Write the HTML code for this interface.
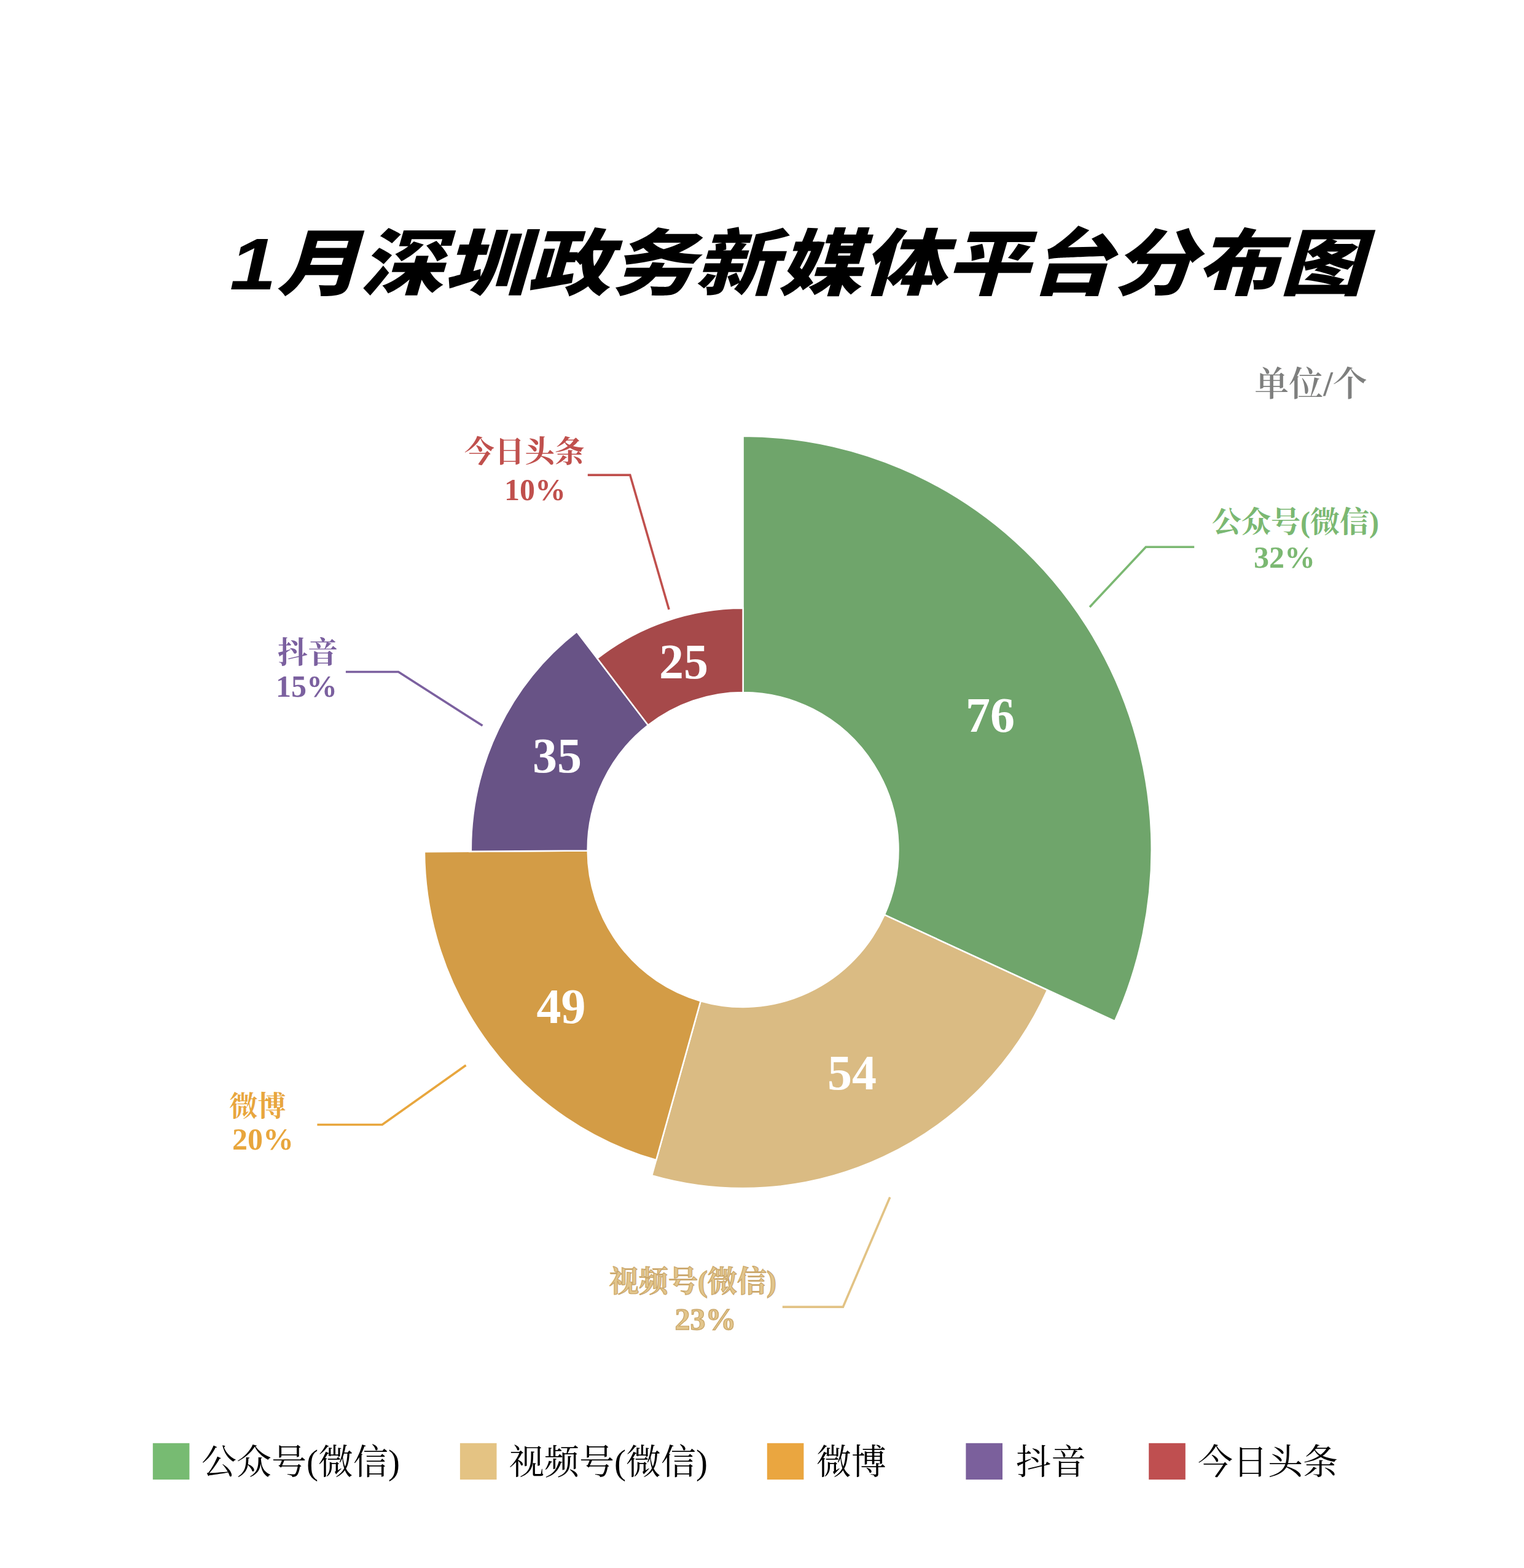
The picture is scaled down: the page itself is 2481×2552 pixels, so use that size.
<!DOCTYPE html>
<html><head><meta charset="utf-8"><title>chart</title>
<style>html,body{margin:0;padding:0;background:#fff;font-family:"Liberation Sans",sans-serif}svg{display:block}</style></head>
<body><svg width="2481" height="2552" viewBox="0 0 2481 2552">
<g transform="translate(1209.6 1382.9) scale(0.988 1)"><path d="M0.00 -256.00L0.00 -673.20A673.20 673.20 0 0 1 612.70 278.93L232.99 106.07A256.00 256.00 0 0 0 0.00 -256.00Z" fill="#6FA56B" stroke="#fff" stroke-width="2.5" stroke-linejoin="miter"/><path d="M232.99 106.07L501.60 228.35A551.13 551.13 0 0 1 -150.21 530.27L-69.77 246.31A256.00 256.00 0 0 0 232.99 106.07Z" fill="#DABB83" stroke="#fff" stroke-width="2.5" stroke-linejoin="miter"/><path d="M-69.77 246.31L-143.08 505.11A524.98 524.98 0 0 1 -524.97 3.45L-255.99 1.68A256.00 256.00 0 0 0 -69.77 246.31Z" fill="#D39C46" stroke="#fff" stroke-width="2.5" stroke-linejoin="miter"/><path d="M-255.99 1.68L-448.12 2.95A448.13 448.13 0 0 1 -273.78 -354.78L-156.40 -202.67A256.00 256.00 0 0 0 -255.99 1.68Z" fill="#685386" stroke="#fff" stroke-width="2.5" stroke-linejoin="miter"/><path d="M-156.40 -202.67L-240.24 -311.32A393.24 393.24 0 0 1 -0.00 -393.24L-0.00 -256.00A256.00 256.00 0 0 0 -156.40 -202.67Z" fill="#A6494A" stroke="#fff" stroke-width="2.5" stroke-linejoin="miter"/></g>
<polyline points="1774.0,988.0 1865.4,890.3 1944.2,890.3" fill="none" stroke="#7BB872" stroke-width="3.6" stroke-linejoin="miter"/>
<polyline points="956.8,773.1 1025.7,773.1 1089.1,992.0" fill="none" stroke="#C0504D" stroke-width="3.6" stroke-linejoin="miter"/>
<polyline points="562.9,1093.5 648.6,1093.5 785.5,1181.1" fill="none" stroke="#7B609F" stroke-width="3.6" stroke-linejoin="miter"/>
<polyline points="516.4,1830.5 622.2,1830.5 758.5,1733.8" fill="none" stroke="#E8A63D" stroke-width="3.6" stroke-linejoin="miter"/>
<polyline points="1273.8,2127.1 1372.4,2127.1 1448.8,1948.5" fill="none" stroke="#E2C385" stroke-width="3.6" stroke-linejoin="miter"/>
<g font-family='"Liberation Serif", "Noto Serif CJK SC", serif' font-weight="bold" text-anchor="middle">
<text x="1612" y="1191" font-size="80" fill="#fff">76</text>
<text x="1113" y="1104" font-size="80" fill="#fff">25</text>
<text x="907" y="1257" font-size="80" fill="#fff">35</text>
<text x="913.5" y="1665" font-size="80" fill="#fff">49</text>
<text x="1387" y="1773" font-size="80" fill="#fff">54</text>
<text x="2109" y="866" font-size="48" fill="#7BB872">公众号(微信)</text>
<text x="2091" y="924" font-size="50" fill="#7BB872">32%</text>
<text x="854" y="752" font-size="49" fill="#C0504D">今日头条</text>
<text x="871" y="814" font-size="50" fill="#C0504D">10%</text>
<text x="501" y="1079" font-size="49" fill="#7B609F">抖音</text>
<text x="499" y="1134" font-size="50" fill="#7B609F">15%</text>
<text x="419.5" y="1816" font-size="46" fill="#E8A63D">微博</text>
<text x="428" y="1871" font-size="50" fill="#E8A63D">20%</text>
<text x="1128" y="2102" font-size="48" fill="#E2C58B" stroke="#CBA86C" stroke-width="1.3">视频号(微信)</text>
<text x="1148.5" y="2163.5" font-size="50" fill="#E2C58B" stroke="#CBA86C" stroke-width="1.4">23%</text>
</g>
<text x="2134" y="644" font-size="56" fill="#7E7F7E" text-anchor="middle" font-family='"Liberation Serif", "Noto Serif CJK SC", serif' font-weight="600">单位/个</text>
<rect x="248.8" y="2348.8" width="59.6" height="59.3" fill="#77BB72"/>
<text x="328" y="2399" font-size="57" fill="#000" font-family='"Liberation Serif", "Noto Serif CJK SC", serif'>公众号(微信)</text>
<rect x="748.9" y="2348.8" width="59.6" height="59.3" fill="#E4C383"/>
<text x="829" y="2399" font-size="57" fill="#000" font-family='"Liberation Serif", "Noto Serif CJK SC", serif'>视频号(微信)</text>
<rect x="1248.8" y="2348.8" width="59.6" height="59.3" fill="#EAA640"/>
<text x="1329" y="2399" font-size="57" fill="#000" font-family='"Liberation Serif", "Noto Serif CJK SC", serif'>微博</text>
<rect x="1572.4" y="2348.8" width="59.6" height="59.3" fill="#7B609C"/>
<text x="1654" y="2399" font-size="57" fill="#000" font-family='"Liberation Serif", "Noto Serif CJK SC", serif'>抖音</text>
<rect x="1870.2" y="2348.8" width="59.6" height="59.3" fill="#BF4F50"/>
<text x="1950" y="2399" font-size="57" fill="#000" font-family='"Liberation Serif", "Noto Serif CJK SC", serif'>今日头条</text>
<text x="374" y="471" font-size="118" fill="#000" font-weight="900" font-style="italic" textLength="1846" lengthAdjust="spacingAndGlyphs" font-family='"Liberation Sans", "Noto Sans CJK SC", sans-serif'>1月深圳政务新媒体平台分布图</text>
</svg></body></html>
